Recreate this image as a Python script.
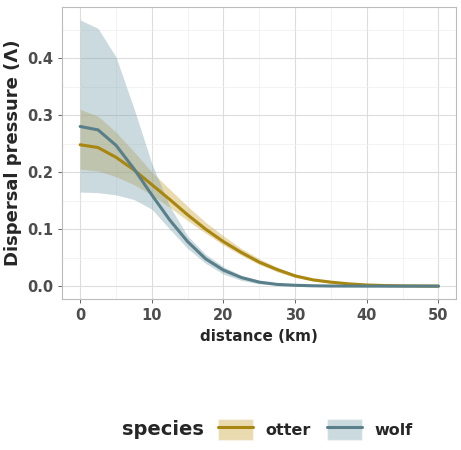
import numpy as np, pandas as pd, matplotlib
matplotlib.use("Agg")
import matplotlib.pyplot as plt, seaborn as sns
from matplotlib.patches import Patch
from matplotlib.lines import Line2D

distance = [0,2.5,5,7.5,10,12.5,15,17.5,20,22.5,25,27.5,30,32.5,35,37.5,40,42.5,45,47.5,50]
otter_mean = [0.248,0.243,0.226,0.204,0.178,0.152,0.125,0.100,0.078,0.059,0.042,0.029,0.018,0.011,0.007,0.004,0.002,0.001,0.0005,0.0002,0]
otter_low  = [0.205,0.202,0.192,0.178,0.160,0.138,0.115,0.093,0.072,0.054,0.038,0.025,0.015,0.009,0.005,0.003,0.001,0.0005,0,0,0]
otter_high = [0.310,0.298,0.270,0.236,0.200,0.170,0.140,0.112,0.088,0.066,0.048,0.033,0.021,0.013,0.008,0.005,0.003,0.002,0.001,0.0005,0]
wolf_mean = [0.280,0.274,0.247,0.206,0.160,0.116,0.078,0.048,0.028,0.015,0.007,0.003,0.0015,0.0006,0.0002,0.0001,0,0,0,0,0]
wolf_low  = [0.165,0.164,0.160,0.152,0.135,0.100,0.066,0.040,0.021,0.010,0.004,0.002,0.0005,0.0002,0,0,0,0,0,0,0]
wolf_high = [0.467,0.452,0.402,0.312,0.215,0.140,0.088,0.056,0.034,0.019,0.010,0.005,0.002,0.001,0.0004,0.0001,0,0,0,0,0]

colors = {"otter": "#A8860F", "wolf": "#587F8A"}
df = pd.concat([pd.DataFrame({"distance": distance, "value": otter_mean, "species": "otter"}),
                pd.DataFrame({"distance": distance, "value": wolf_mean, "species": "wolf"})])

sns.set_theme(style="whitegrid")
fig = plt.figure(figsize=(4.61, 4.5), dpi=100)
ax = fig.add_axes([0.135, 0.335, 0.855, 0.65])
ax.fill_between(distance, otter_low, otter_high, color="#C9A43A", alpha=0.4, lw=0)
ax.fill_between(distance, wolf_low, wolf_high, color="#7FA3AD", alpha=0.4, lw=0)
sns.lineplot(data=df, x="distance", y="value", hue="species", palette=colors, lw=2.2, ax=ax, legend=False)
ax.set_xlim(-2.5, 52.5); ax.set_ylim(-0.023, 0.49)
ax.set_xticks([0,10,20,30,40,50]); ax.set_yticks([0,0.1,0.2,0.3,0.4])
ax.set_xticks([5,15,25,35,45], minor=True); ax.set_yticks([0.05,0.15,0.25,0.35,0.45], minor=True)
ax.grid(which="major", color="#DDDDDD", lw=0.8); ax.grid(which="minor", color="#EEEEEE", lw=0.5)
for s in ax.spines.values(): s.set_color("#BBBBBB"); s.set_linewidth(0.8)
ax.tick_params(labelsize=10.5, colors="#4D4D4D", length=3, width=0.6, left=True, bottom=True)
for t in ax.get_xticklabels()+ax.get_yticklabels(): t.set_fontweight("bold")
ax.set_xlabel("distance (km)", fontsize=11, fontweight="bold", labelpad=4)
ax.set_ylabel("Dispersal pressure (Λ)", fontsize=13, fontweight="bold")
handles = [(Patch(facecolor="#C9A43A", alpha=0.4), Line2D([], [], color=colors["otter"], lw=2.2)),
           (Patch(facecolor="#7FA3AD", alpha=0.4), Line2D([], [], color=colors["wolf"], lw=2.2))]
leg = fig.legend(handles, ["otter", "wolf"], loc="center", bbox_to_anchor=(0.58, 0.045), ncol=2,
                 frameon=False, title="species", handlelength=2.2, handleheight=1.6,
                 prop={"weight": "bold", "size": 11.5}, columnspacing=1.0)
leg.set_title("species", prop={"weight": "bold", "size": 14})
from matplotlib.offsetbox import HPacker
box = leg._legend_box
box.__class__ = HPacker
box.sep = 10; box.align = "center"
fig.savefig("out.png", dpi=100)
